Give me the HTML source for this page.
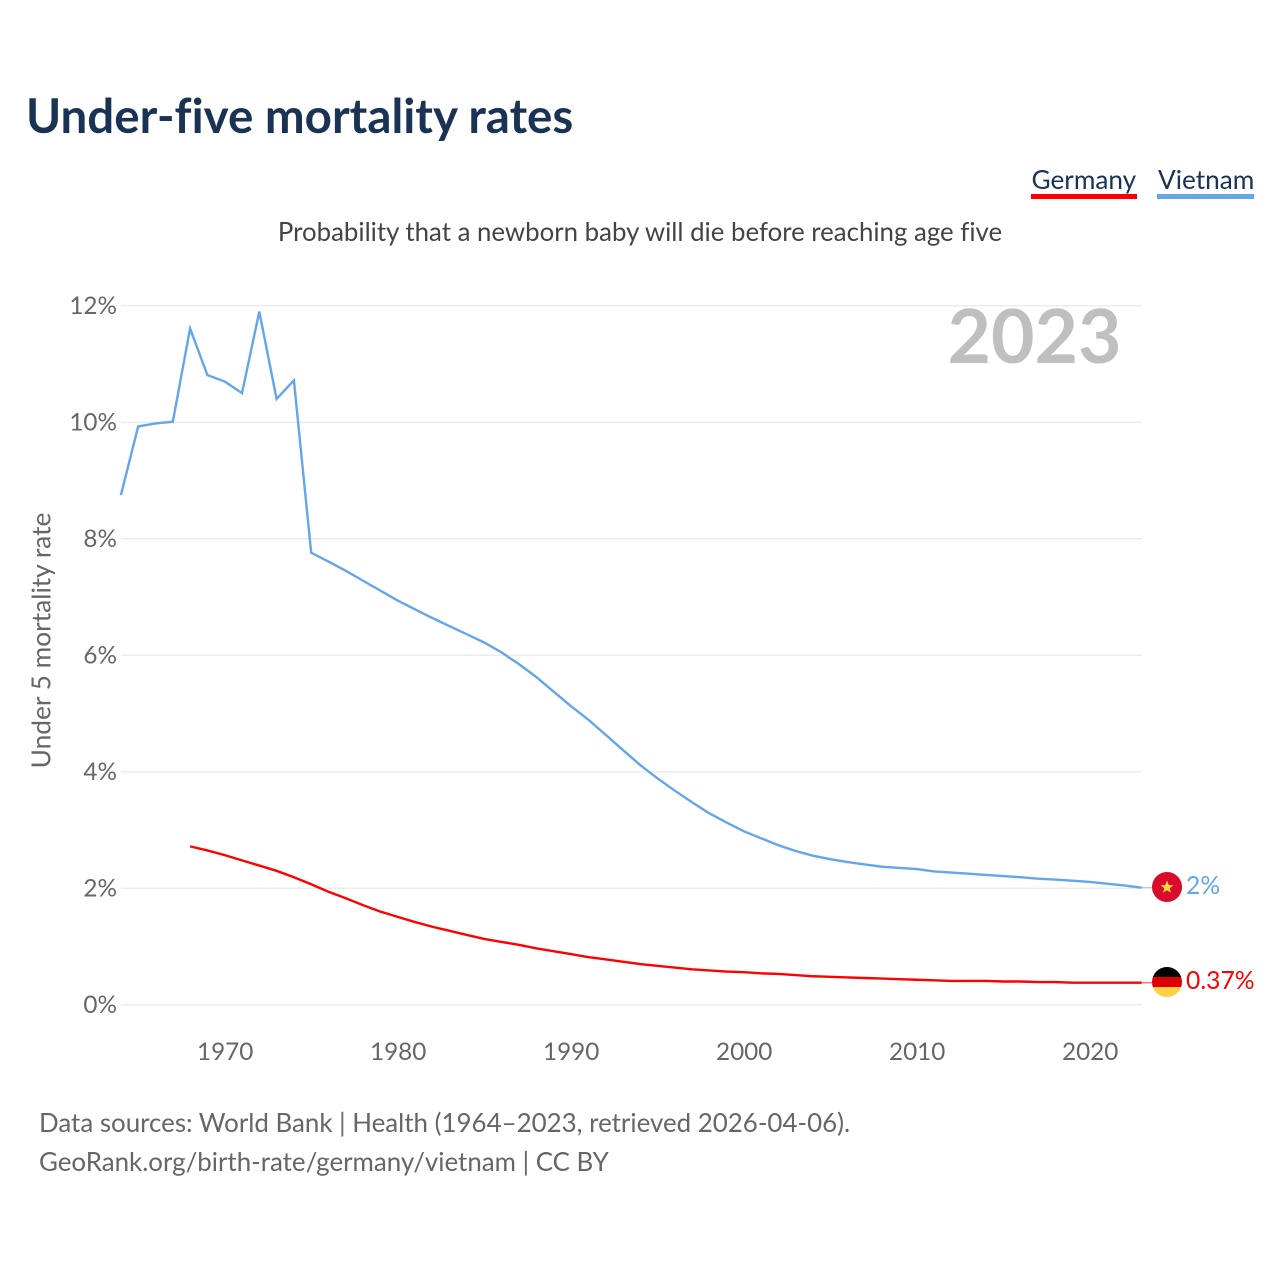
<!DOCTYPE html>
<html lang="en">
<head>
<meta charset="utf-8">
<title>Under-five mortality rates</title>
<style>
html,body{margin:0;padding:0;background:#fff;width:1280px;height:1280px;overflow:hidden}
svg{display:block}
text{font-family:"Lato","Carlito","Liberation Sans",sans-serif;font-variant-ligatures:none;text-rendering:optimizeSpeed}
</style>
</head>
<body>
<svg id="chart" width="1280" height="1280" viewBox="0 0 1280 1280" xmlns="http://www.w3.org/2000/svg">
  <defs>
    <clipPath id="flag-clip-de"><circle cx="1167" cy="982" r="15"></circle></clipPath>
  </defs>
  <text x="26" y="133" font-size="47.5" font-weight="700" fill="#1a3354">Under-five mortality rates</text>

  <g>
    <g>
      <text x="1031.5" y="189" font-size="26.2" fill="#1a3354">Germany</text>
      <rect x="1031" y="194" width="106" height="5" fill="#ff0000"></rect>
    </g>
    <g>
      <text x="1158" y="189" font-size="26.2" fill="#1a3354">Vietnam</text>
      <rect x="1157" y="194" width="97" height="5" fill="#63a6ec"></rect>
    </g>
  </g>

  <text x="640" y="241" text-anchor="middle" font-size="25.82" fill="#444444">Probability that a newborn baby will die before reaching age five</text>

  <g id="grid"></g>
  <g id="y-ticks"></g>
  <g id="x-ticks"></g>

  <text x="1121.5" y="363" text-anchor="end" font-size="75" font-weight="700" fill="#bfbfbf">2023</text>

  <text transform="translate(50.5 640.5) rotate(-90)" text-anchor="middle" font-size="26.3" fill="#666666">Under 5 mortality rate</text>

  <g id="series"></g>

  <g id="end-markers">
    <g>
      <circle cx="1167" cy="887" r="15" fill="#da0b2c"></circle>
      <polygon points="1167,880.5 1168.7,885 1173.5,885.2 1169.7,888.2 1171,892.8 1167,890.2 1163,892.8 1164.3,888.2 1160.5,885.2 1165.3,885" fill="#ffd83d"></polygon>
    </g>
    <g clip-path="url(#flag-clip-de)">
      <rect x="1152" y="967" width="30" height="10" fill="#000000"></rect>
      <rect x="1152" y="977" width="30" height="10" fill="#de0000"></rect>
      <rect x="1152" y="987" width="30" height="10" fill="#ffd040"></rect>
    </g>
    <text id="label-vietnam" x="1186" y="894" font-size="24.7" fill="#63a6ec"></text>
    <text id="label-germany" x="1186" y="989" font-size="24.7" fill="#ff0000"></text>
  </g>

  <text x="39" y="1132" font-size="25.9" fill="#666666">Data sources: World Bank | Health (1964–2023, retrieved 2026-04-06).</text>
  <text x="39" y="1171" font-size="25.9" fill="#666666">GeoRank.org/birth-rate/germany/vietnam | CC BY</text>
</svg>

<script>
const vietnamStartYear = 1964;
const germanyStartYear = 1968;
const vietnamValues = [8.75,9.93,9.98,10.01,11.61,10.81,10.70,10.50,11.90,10.40,10.72,7.76,7.61,7.45,7.28,7.11,6.94,6.79,6.64,6.50,6.36,6.22,6.05,5.85,5.63,5.38,5.13,4.90,4.64,4.38,4.12,3.89,3.68,3.48,3.29,3.13,2.98,2.86,2.74,2.64,2.56,2.50,2.45,2.41,2.37,2.35,2.33,2.29,2.27,2.25,2.23,2.21,2.19,2.165,2.15,2.13,2.11,2.08,2.05,2.01];
const germanyValues = [2.72,2.65,2.57,2.48,2.39,2.30,2.19,2.07,1.94,1.83,1.71,1.60,1.51,1.42,1.34,1.27,1.20,1.13,1.08,1.03,0.97,0.92,0.87,0.82,0.78,0.74,0.70,0.67,0.64,0.61,0.59,0.57,0.56,0.54,0.53,0.51,0.49,0.48,0.47,0.46,0.45,0.44,0.43,0.42,0.41,0.41,0.41,0.40,0.40,0.39,0.39,0.38,0.38,0.38,0.38,0.38];
const yTickValues = [0,2,4,6,8,10,12];
const xTickValues = [1970,1980,1990,2000,2010,2020];
const vietnamEndLabel = "2%";
const germanyEndLabel = "0.37%";

const NS = "http://www.w3.org/2000/svg";
const xScale = year => 224.7 + (year - 1970) * 17.3;
const yScale = value => 1004.8 - value * 58.25;

const grid = document.getElementById("grid");
const yTicks = document.getElementById("y-ticks");
const xTicks = document.getElementById("x-ticks");
const series = document.getElementById("series");

yTickValues.forEach(v => {
  const gridline = document.createElementNS(NS, "line");
  
  
  gridline.setAttribute("x1", 121);
  gridline.setAttribute("x2", 1142);
  gridline.setAttribute("y1", yScale(v));
  gridline.setAttribute("y2", yScale(v));
  gridline.setAttribute("stroke", "#ececec");
  gridline.setAttribute("stroke-width", 1.5);
  grid.appendChild(gridline);

  const label = document.createElementNS(NS, "text");
  
  
  label.setAttribute("x", 117);
  label.setAttribute("y", yScale(v) + 8);
  label.setAttribute("text-anchor", "end");
  label.setAttribute("font-size", 24.3);
  label.setAttribute("fill", "#666666");
  label.textContent = v + "%";
  yTicks.appendChild(label);
});

xTickValues.forEach(y => {
  const label = document.createElementNS(NS, "text");
  
  
  label.setAttribute("x", xScale(y) + 0.5);
  label.setAttribute("y", 1060);
  label.setAttribute("text-anchor", "middle");
  label.setAttribute("font-size", 24.3);
  label.setAttribute("fill", "#666666");
  label.textContent = y;
  xTicks.appendChild(label);
});

function seriesPoints(values, startYear) {
  return values.map((v, i) => xScale(startYear + i).toFixed(2) + "," + yScale(v).toFixed(2)).join(" ");
}

const vietnamLine = document.createElementNS(NS, "polyline");


vietnamLine.setAttribute("points", seriesPoints(vietnamValues, vietnamStartYear));
vietnamLine.setAttribute("fill", "none");
vietnamLine.setAttribute("stroke", "#63a6ec");
vietnamLine.setAttribute("stroke-width", 2.4);
vietnamLine.setAttribute("stroke-linejoin", "miter");
series.appendChild(vietnamLine);

const germanyLine = document.createElementNS(NS, "polyline");


germanyLine.setAttribute("points", seriesPoints(germanyValues, germanyStartYear));
germanyLine.setAttribute("fill", "none");
germanyLine.setAttribute("stroke", "#ff0000");
germanyLine.setAttribute("stroke-width", 2.4);
series.appendChild(germanyLine);

const vietnamLast = vietnamValues[vietnamValues.length - 1];
const germanyLast = germanyValues[germanyValues.length - 1];

const vietnamTail = document.createElementNS(NS, "line");


vietnamTail.setAttribute("x1", xScale(2023));
vietnamTail.setAttribute("x2", 1152);
vietnamTail.setAttribute("y1", yScale(vietnamLast));
vietnamTail.setAttribute("y2", yScale(vietnamLast));
vietnamTail.setAttribute("stroke", "#63a6ec");
vietnamTail.setAttribute("stroke-opacity", 0.55);
vietnamTail.setAttribute("stroke-width", 1.5);
series.appendChild(vietnamTail);

const germanyTail = document.createElementNS(NS, "line");


germanyTail.setAttribute("x1", xScale(2023));
germanyTail.setAttribute("x2", 1152);
germanyTail.setAttribute("y1", yScale(germanyLast));
germanyTail.setAttribute("y2", yScale(germanyLast));
germanyTail.setAttribute("stroke", "#ff0000");
germanyTail.setAttribute("stroke-opacity", 0.55);
germanyTail.setAttribute("stroke-width", 1.5);
series.appendChild(germanyTail);

document.getElementById("label-vietnam").textContent = vietnamEndLabel;
document.getElementById("label-germany").textContent = germanyEndLabel;
</script>
</body>
</html>
